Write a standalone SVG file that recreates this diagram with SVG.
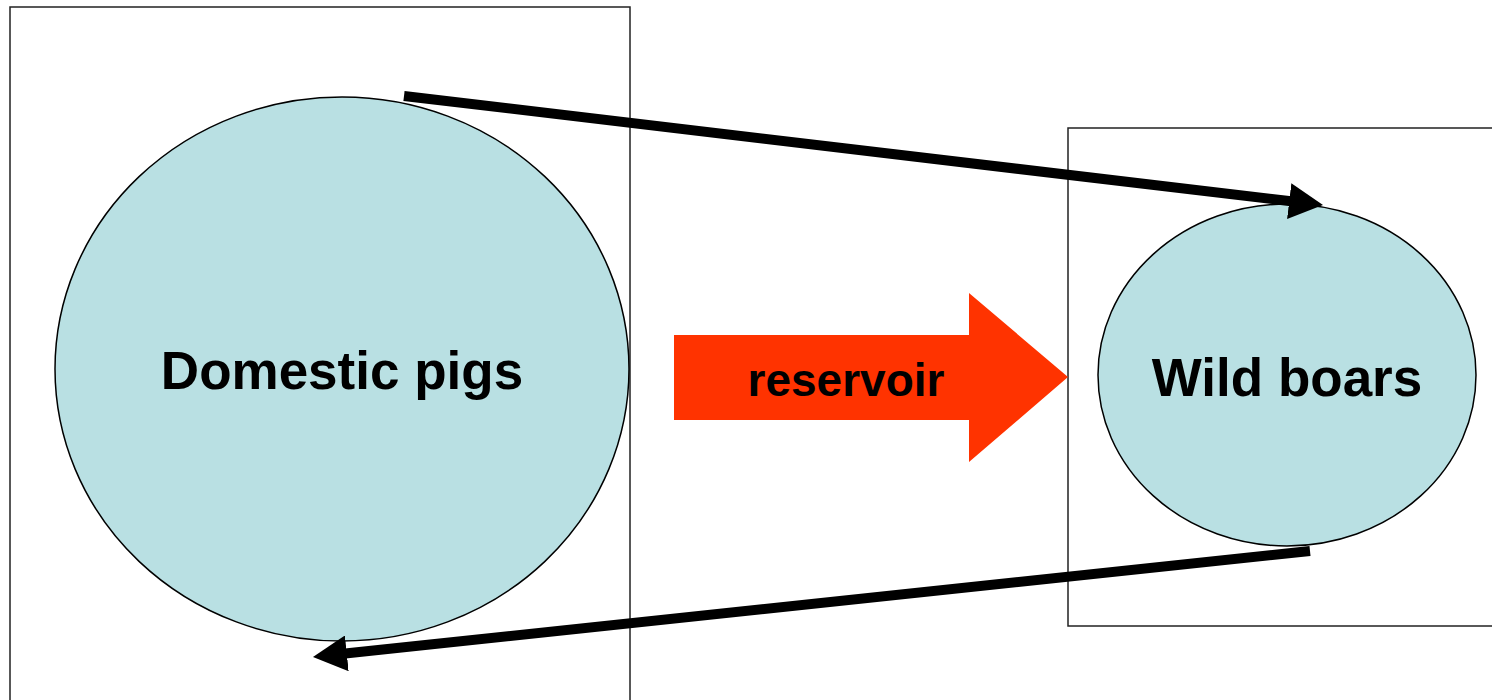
<svg xmlns="http://www.w3.org/2000/svg" width="1492" height="700" viewBox="0 0 1492 700">
<style>
.box{fill:none;stroke:#222;stroke-width:1.5}
.pop{fill:#b9e0e3;stroke:#000;stroke-width:1.5}
.lbl{font-family:"Liberation Sans",Arial,sans-serif;font-weight:bold;fill:#000;text-anchor:middle}
.conn{stroke:#000;stroke-width:10;fill:none}
</style>
<defs>
<marker id="ah" markerUnits="userSpaceOnUse" markerWidth="34" markerHeight="36" refX="4" refY="18" orient="auto" viewBox="0 0 34 36">
<path d="M0,0 L34,18 L0,36 z" fill="#000"/>
</marker>
</defs>
<rect width="1492" height="700" fill="#fff"/>
<g id="box-left"><rect class="box" x="10" y="7" width="620" height="710"/></g>
<g id="box-right"><rect class="box" x="1068" y="128" width="440" height="498"/></g>
<g id="domestic-pigs">
<ellipse class="pop" cx="342" cy="369" rx="287" ry="272"/>
<text class="lbl" x="342" y="389" font-size="53">Domestic pigs</text>
</g>
<g id="wild-boars">
<ellipse class="pop" cx="1287" cy="375" rx="189" ry="171"/>
<text class="lbl" x="1287" y="396" font-size="53">Wild boars</text>
</g>
<g id="reservoir">
<polygon points="674,335 969,335 969,293 1068,377 969,462 969,420 674,420" fill="#ff3300"/>
<text class="lbl" x="846" y="396" font-size="46">reservoir</text>
</g>
<g id="connectors">
<line class="conn" x1="404" y1="96" x2="1293.2" y2="201.5" marker-end="url(#ah)"/>
<line class="conn" x1="1310" y1="551" x2="342.8" y2="653.8" marker-end="url(#ah)"/>
</g>
</svg>
